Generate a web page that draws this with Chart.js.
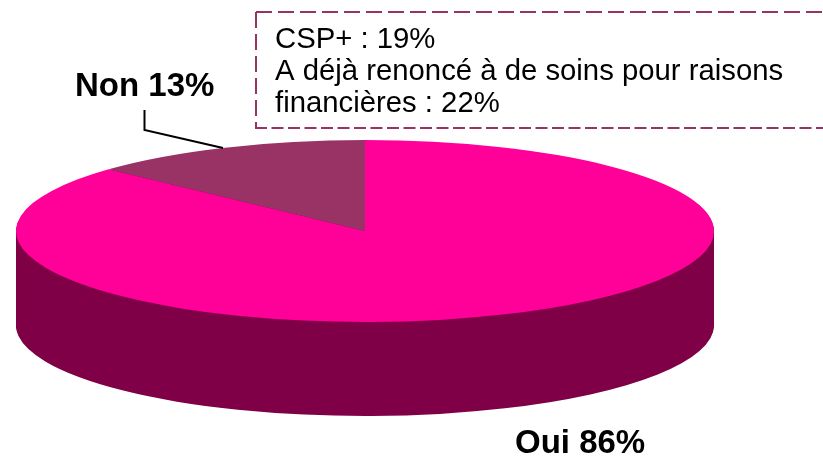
<!DOCTYPE html>
<html>
<head>
<meta charset="utf-8">
<style>html,body{margin:0;padding:0;background:#fff;overflow:hidden}canvas{display:block}</style>
<script src="https://cdn.jsdelivr.net/npm/chart.js@4"></script>
</head>
<body>
<canvas id="c" width="823" height="461"></canvas>
<script>
const categories = ['Oui', 'Non'];
const values = [86, 13];
const sliceColors = ['#FF0099', '#993366'];
const sideColor = '#800048';
const noteLines = ['CSP+ : 19%', 'A déjà renoncé à de soins pour raisons', 'financières : 22%'];
const pieCx = 365, pieCy = 231, pieRx = 349, pieRy = 91, pieDepth = 94;

function squash(chart, ctx, dy) {
  const a = chart.getDatasetMeta(0).data[0];
  const sx = pieRx / a.outerRadius, sy = pieRy / a.outerRadius;
  ctx.setTransform(sx, 0, 0, sy, pieCx - a.x * sx, pieCy + dy - a.y * sy);
}
const pie3d = {
  id: 'pie3d',
  beforeDatasetsDraw(chart) {
    const ctx = chart.ctx;
    ctx.save();
    const arcs = chart.getDatasetMeta(0).data;
    for (let d = pieDepth; d >= 1; d--) {
      squash(chart, ctx, d);
      arcs.forEach(el => {
        const o = el.options;
        el.options = Object.create(o, {backgroundColor: {value: sideColor}});
        el.draw(ctx);
        el.options = o;
      });
    }
    squash(chart, ctx, 0);
  },
  afterDatasetsDraw(chart) {
    const ctx = chart.ctx;
    ctx.restore();
    // leader line
    ctx.save();
    ctx.strokeStyle = '#000';
    ctx.lineWidth = 2;
    ctx.beginPath();
    ctx.moveTo(144.5, 110);
    ctx.lineTo(144.5, 130);
    ctx.lineTo(223, 148);
    ctx.stroke();
    // category labels
    ctx.fillStyle = '#000';
    ctx.textBaseline = 'alphabetic';
    ctx.textAlign = 'left';
    ctx.font = 'bold 33px "Liberation Sans", Arial, sans-serif';
    ctx.fillText(categories[1] + ' ' + values[1] + '%', 75, 96);
    ctx.fillText(categories[0] + ' ' + values[0] + '%', 515, 453);
    // note box
    ctx.strokeStyle = '#993366';
    ctx.lineWidth = 2;
    ctx.setLineDash([16, 6]);
    ctx.beginPath(); ctx.moveTo(256, 12); ctx.lineTo(823, 12); ctx.stroke();
    ctx.beginPath(); ctx.moveTo(256, 12); ctx.lineTo(256, 128); ctx.stroke();
    ctx.setLineDash([12, 4.5]);
    ctx.beginPath(); ctx.moveTo(255, 128); ctx.lineTo(823, 128); ctx.stroke();
    ctx.setLineDash([]);
    ctx.font = '29.3px "Liberation Sans", Arial, sans-serif';
    noteLines.forEach((t, i) => ctx.fillText(t, 275, 48 + i * 32));
    ctx.restore();
  }
};
new Chart(document.getElementById('c'), {
  type: 'pie',
  data: {labels: categories, datasets: [{data: values, backgroundColor: sliceColors, borderWidth: 0}]},
  options: {
    responsive: false,
    animation: false,
    events: [],
    layout: {padding: 0},
    plugins: {legend: {display: false}, tooltip: {enabled: false}}
  },
  plugins: [pie3d]
});
</script>
</body>
</html>
